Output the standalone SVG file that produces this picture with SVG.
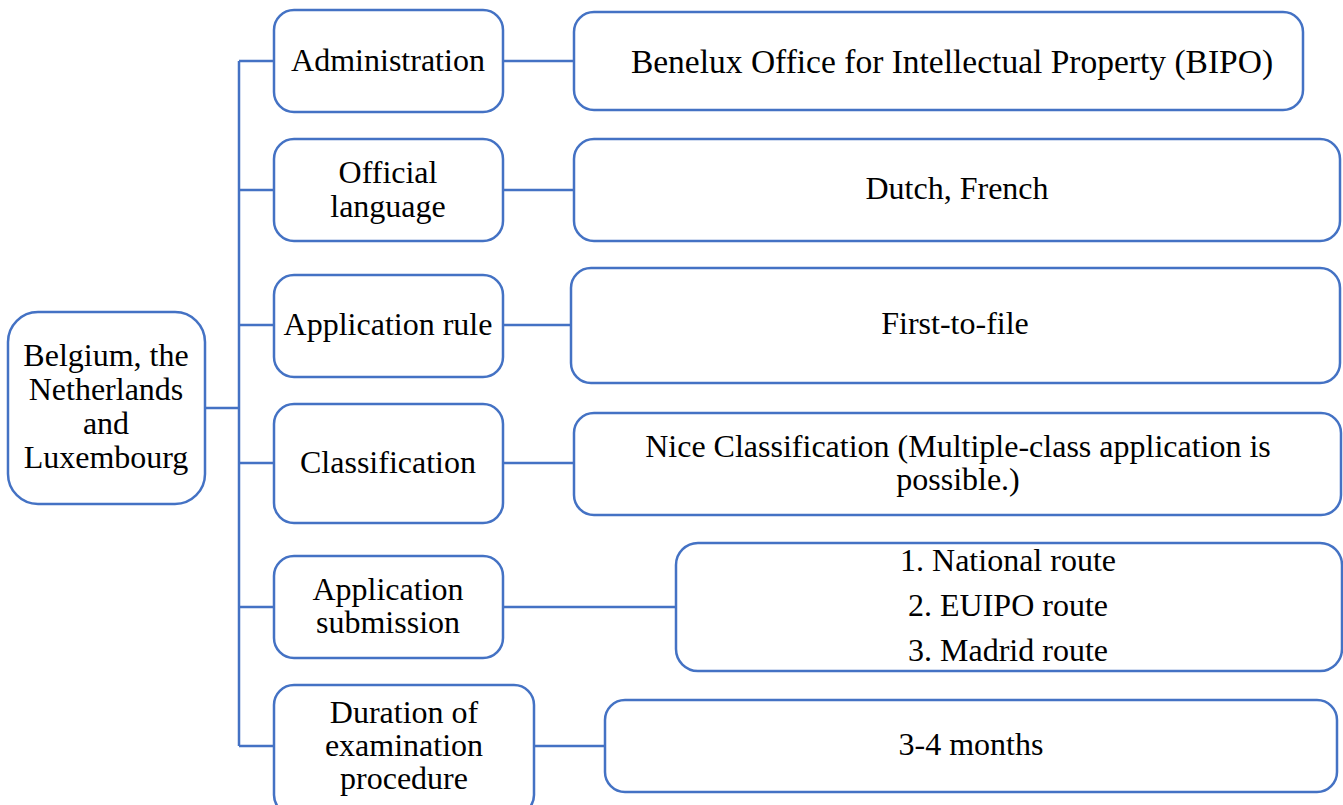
<svg xmlns="http://www.w3.org/2000/svg" width="1343" height="805" viewBox="0 0 1343 805">
<style>
.box{fill:#fff;stroke:#4472C4;stroke-width:2.5}
.ln{fill:none;stroke:#4472C4;stroke-width:2.5}
text{font-family:'Liberation Serif', serif;font-size:32px;fill:#000;text-anchor:middle}
</style>
<rect width="1343" height="805" fill="#fff"/>
<g id="connectors">
<path class="ln" d="M205,408H239M239,61V746"/>
<path class="ln" d="M239,61H274M239,190H274M239,325H274M239,463H274M239,607H274M239,746H274"/>
<path class="ln" d="M503,61H574M503,190H574M503,325H571M503,463H574M503,607H676M534,746H605"/>
</g>
<g id="root"><rect class="box" x="8" y="312" width="197" height="192" rx="30"/>
<text x="106" y="366">Belgium, the</text><text x="106" y="400">Netherlands</text><text x="106" y="434">and</text><text x="106" y="468">Luxembourg</text></g>
<g id="admin"><rect class="box" x="274" y="10" width="229" height="102" rx="20"/><text x="388" y="71">Administration</text></g>
<g id="lang"><rect class="box" x="274" y="139" width="229" height="102" rx="20"/><text x="388" y="183">Official</text><text x="388" y="217">language</text></g>
<g id="rule"><rect class="box" x="274" y="275" width="229" height="102" rx="20"/><text x="388" y="335">Application rule</text></g>
<g id="class"><rect class="box" x="274" y="404" width="229" height="119" rx="20"/><text x="388" y="473">Classification</text></g>
<g id="submission"><rect class="box" x="274" y="556" width="229" height="102" rx="20"/><text x="388" y="600">Application</text><text x="388" y="633">submission</text></g>
<g id="duration"><rect class="box" x="274" y="685" width="260" height="130" rx="20"/><text x="404" y="723">Duration of</text><text x="404" y="756">examination</text><text x="404" y="789">procedure</text></g>
<g id="bipo"><rect class="box" x="574" y="12" width="729" height="98" rx="20"/><text x="952" y="73" style="font-size:33.5px">Benelux Office for Intellectual Property (BIPO)</text></g>
<g id="dutch"><rect class="box" x="574" y="139" width="766" height="102" rx="20"/><text x="957" y="199">Dutch, French</text></g>
<g id="ftf"><rect class="box" x="571" y="268" width="769" height="115" rx="20"/><text x="955" y="334">First-to-file</text></g>
<g id="nice"><rect class="box" x="574" y="413" width="767" height="102" rx="20"/><text x="958" y="457">Nice Classification (Multiple-class application is</text><text x="958" y="490">possible.)</text></g>
<g id="routes"><rect class="box" x="676" y="543" width="666" height="128" rx="22"/><text x="1008" y="571">1. National route</text><text x="1008" y="616">2. EUIPO route</text><text x="1008" y="661">3. Madrid route</text></g>
<g id="months"><rect class="box" x="605" y="700" width="732" height="92" rx="20"/><text x="971" y="755">3-4 months</text></g>
</svg>
